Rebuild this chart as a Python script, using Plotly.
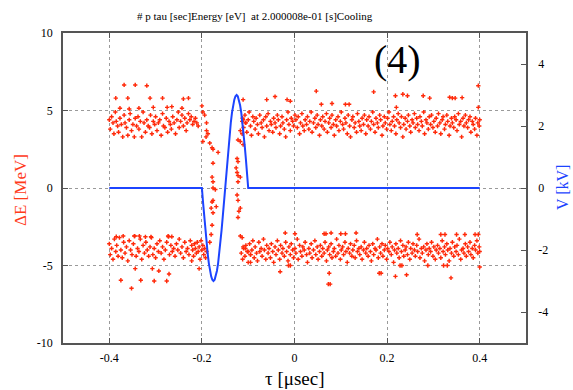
import plotly.graph_objects as go

# ---- data ----
# upper band, left of the transition  (tau [usec], dE [MeV])
UPPER_LEFT = [(-0.400,4.4),(-0.398,3.8),(-0.395,4.6),(-0.392,4.2),(-0.390,3.5),(-0.387,4.9),(-0.385,4.3),(-0.382,4.0),
 (-0.380,3.6),(-0.377,4.5),(-0.374,4.1),(-0.371,3.3),(-0.368,4.7),(-0.366,4.2),(-0.363,3.9),(-0.360,3.4),(-0.357,4.4),
 (-0.355,4.8),(-0.352,3.7),(-0.349,4.1),(-0.346,3.3),(-0.344,4.5),(-0.341,4.0),(-0.338,4.6),(-0.336,3.8),(-0.333,4.3),
 (-0.330,3.3),(-0.327,4.9),(-0.325,4.2),(-0.322,3.6),(-0.319,4.4),(-0.316,4.0),(-0.313,3.9),(-0.311,4.7),(-0.308,3.5),
 (-0.305,4.3),(-0.302,4.1),(-0.300,4.6),(-0.297,3.7),(-0.294,4.2),(-0.291,4.4),(-0.288,3.4),(-0.285,4.8),(-0.283,4.0),
 (-0.280,3.9),(-0.277,4.5),(-0.274,3.6),(-0.271,4.3),(-0.268,4.1),(-0.266,3.8),(-0.263,4.6),(-0.260,4.2),(-0.257,3.5),
 (-0.254,4.4),(-0.251,4.9),(-0.249,3.9),(-0.246,4.3),(-0.243,4.7),(-0.240,4.0),(-0.237,4.5),(-0.234,3.7),(-0.232,4.2),
 (-0.229,4.8),(-0.226,4.4),(-0.223,4.6),(-0.220,4.1),(-0.217,4.3),(-0.214,4.5),(-0.211,4.2),(-0.208,4.0)]

UPPER_RIGHT = [(-0.112,4.5),(-0.110,3.9),(-0.107,4.7),(-0.105,4.2),(-0.103,3.6),(-0.100,4.4),(-0.098,4.9),(-0.095,4.0),
 (-0.093,3.4),(-0.090,4.6),(-0.088,4.3),(-0.085,3.8),(-0.083,4.5),(-0.080,4.1),(-0.078,3.5),(-0.075,4.7),(-0.072,4.2),
 (-0.070,3.9),(-0.067,4.4),(-0.065,3.3),(-0.062,4.6),(-0.060,4.0),(-0.057,4.8),(-0.055,3.7),(-0.052,4.3),(-0.050,4.1),
 (-0.047,3.6),(-0.045,4.5),(-0.042,4.2),(-0.040,3.9),(-0.037,4.7),(-0.035,4.4),(-0.032,3.5),(-0.030,4.0),(-0.027,4.6),
 (-0.025,4.2),(-0.022,3.8),(-0.019,3.3),(-0.017,4.4),(-0.014,4.9),(-0.012,4.1),(-0.009,3.7),(-0.007,4.5),(-0.004,4.3),
 (-0.002,4.0),(0.001,4.7),(0.003,4.4),(0.006,3.9),(0.008,4.6),(0.011,3.5),(0.013,4.2),(0.016,4.8),(0.018,4.0),(0.021,3.7),
 (0.023,4.4),(0.026,4.1),(0.028,4.6),(0.031,3.8),(0.033,4.3),(0.036,4.9),(0.038,3.6),(0.041,4.2),(0.044,4.5),(0.046,3.9),
 (0.049,4.7),(0.051,4.1),(0.054,3.4),(0.056,4.4),(0.059,4.0),(0.061,4.6),(0.064,3.8),(0.066,4.3),(0.069,4.8),(0.071,3.6),
 (0.074,4.2),(0.076,4.5),(0.079,3.9),(0.081,4.7),(0.084,4.1),(0.086,3.4),(0.089,4.4),(0.091,4.0),(0.094,4.6),(0.096,3.7),
 (0.099,4.3),(0.101,4.9),(0.104,4.1),(0.106,3.8),(0.109,4.5),(0.111,4.2),(0.114,3.5),(0.116,4.7),(0.119,4.0),(0.121,3.3),
 (0.124,4.4),(0.126,4.6),(0.129,3.9),(0.131,4.2),(0.134,3.6),(0.136,4.8),(0.139,4.3),(0.141,4.0),(0.144,3.7),(0.146,4.5),
 (0.149,4.1),(0.151,4.7),(0.154,3.5),(0.156,4.4),(0.159,4.0),(0.161,4.6),(0.164,3.8),(0.166,4.3),(0.169,4.9),(0.171,4.1),
 (0.174,3.6),(0.176,4.5),(0.179,4.2),(0.181,3.9),(0.184,4.7),(0.186,4.4),(0.189,3.4),(0.191,4.0),(0.194,4.6),(0.196,4.2),
 (0.199,3.8),(0.201,4.5),(0.204,4.9),(0.206,4.1),(0.209,3.7),(0.211,4.3),(0.214,4.6),(0.216,4.0),(0.219,3.5),(0.221,4.4),
 (0.224,4.8),(0.226,4.2),(0.229,3.9),(0.231,4.6),(0.234,3.3),(0.236,4.1),(0.239,4.5),(0.241,3.8),(0.244,4.3),(0.246,4.7),
 (0.249,4.0),(0.251,3.6),(0.254,4.4),(0.256,4.2),(0.259,4.8),(0.261,3.9),(0.264,4.5),(0.266,4.1),(0.269,3.7),(0.271,4.6),
 (0.274,4.3),(0.276,4.0),(0.279,4.9),(0.281,3.5),(0.284,4.4),(0.286,4.2),(0.289,3.8),(0.291,4.6),(0.294,4.1),(0.296,4.7),
 (0.299,3.9),(0.301,4.3),(0.304,3.6),(0.306,4.5),(0.309,4.0),(0.311,4.8),(0.314,4.2),(0.316,3.5),(0.319,4.4),(0.321,4.6),
 (0.324,3.8),(0.326,4.1),(0.329,4.7),(0.331,4.3),(0.334,3.4),(0.336,4.0),(0.339,4.5),(0.341,4.2),(0.344,3.9),(0.346,4.6),
 (0.349,4.4),(0.351,3.7),(0.354,4.8),(0.356,4.1),(0.359,4.3),(0.361,3.3),(0.364,4.5),(0.366,4.0),(0.369,4.7),(0.371,4.2),
 (0.374,3.9),(0.376,4.4),(0.379,4.6),(0.381,3.6),(0.384,4.3),(0.386,4.1),(0.389,3.8),(0.391,4.5),(0.394,3.4),(0.396,4.2),
 (0.399,4.0),(0.400,4.4)]

UPPER_OUTLIERS = [(-0.016,5.7),(-0.009,5.6),(0.047,6.25),(0.058,5.4),(0.081,5.45),(0.110,5.4),(0.118,5.4),(0.171,6.2),
 (0.218,5.95),(0.220,5.2),(0.234,6.05),(0.244,5.95),(0.278,5.95),(0.292,5.8),(0.335,5.85),(0.341,5.8),(0.347,5.8),
 (0.362,5.83),(0.397,6.6),(0.397,5.2),(-0.060,5.7),(-0.042,5.9),
 (-0.368,6.65),(-0.344,6.65),(-0.319,6.6),(-0.386,5.8),(-0.360,5.8),(-0.312,5.8),(-0.285,5.8),(-0.240,5.75),(-0.229,5.8),
 (-0.377,5.15),(-0.357,5.1),(-0.336,5.15),(-0.305,5.2),(-0.275,5.2),(-0.265,5.25),(-0.243,5.15)]

LOWER_LEFT = [(-0.400,-3.6),(-0.398,-4.3),(-0.395,-3.9),(-0.392,-4.6),(-0.389,-3.3),(-0.386,-4.1),(-0.384,-3.7),
 (-0.381,-4.4),(-0.378,-3.2),(-0.375,-4.0),(-0.372,-4.5),(-0.369,-3.5),(-0.366,-4.2),(-0.363,-3.8),(-0.360,-4.7),
 (-0.357,-3.4),(-0.354,-4.0),(-0.351,-4.3),(-0.348,-3.6),(-0.345,-3.1),(-0.342,-4.4),(-0.339,-3.9),(-0.336,-4.1),
 (-0.333,-3.3),(-0.330,-4.6),(-0.327,-3.7),(-0.324,-4.2),(-0.321,-3.5),(-0.318,-4.0),(-0.315,-4.4),(-0.312,-3.8),
 (-0.309,-3.2),(-0.306,-4.3),(-0.303,-3.9),(-0.300,-4.5),(-0.297,-3.6),(-0.294,-4.1),(-0.291,-3.4),(-0.288,-4.2),
 (-0.285,-3.8),(-0.282,-4.6),(-0.279,-4.0),(-0.276,-3.5),(-0.273,-3.1),(-0.270,-4.3),(-0.267,-3.7),(-0.264,-4.1),
 (-0.261,-3.9),(-0.258,-4.4),(-0.255,-3.6),(-0.252,-4.0),(-0.249,-3.3),(-0.246,-4.2),(-0.243,-3.8),(-0.240,-4.5),
 (-0.237,-3.5),(-0.234,-4.1),(-0.231,-3.9),(-0.228,-4.3),(-0.225,-3.4),(-0.222,-3.7),(-0.220,-4.0),(-0.218,-4.4),
 (-0.216,-3.6),(-0.214,-3.9),(-0.212,-4.2),(-0.210,-3.5),(-0.208,-4.1),(-0.206,-3.8),(-0.204,-4.6),(-0.202,-3.4),
 (-0.200,-4.0),(-0.198,-3.7),(-0.196,-4.3),(-0.194,-3.9),(-0.192,-4.5),(-0.190,-4.1)]

LOWER_RIGHT = [(-0.115,-4.2),(-0.112,-4.6),(-0.110,-3.9),(-0.107,-4.4),(-0.105,-3.7),(-0.102,-4.1),(-0.100,-4.8),
 (-0.097,-3.6),(-0.095,-4.3),(-0.092,-4.0),(-0.090,-3.4),(-0.087,-4.5),(-0.085,-3.8),(-0.082,-4.2),(-0.080,-4.7),
 (-0.077,-3.5),(-0.075,-4.1),(-0.072,-3.9),(-0.070,-4.4),(-0.067,-3.3),(-0.065,-4.0),(-0.062,-4.6),(-0.060,-3.7),
 (-0.057,-4.2),(-0.055,-3.9),(-0.052,-4.5),(-0.050,-3.6),(-0.047,-4.1),(-0.045,-4.8),(-0.042,-3.8),(-0.040,-4.3),
 (-0.037,-3.4),(-0.035,-4.0),(-0.032,-4.6),(-0.030,-3.7),(-0.027,-4.2),(-0.025,-3.9),(-0.022,-4.4),(-0.019,-3.5),
 (-0.017,-4.1),(-0.014,-4.7),(-0.012,-3.8),(-0.009,-4.3),(-0.007,-3.6),(-0.004,-4.0),(-0.002,-4.5),(0.001,-3.9),
 (0.003,-4.2),(0.006,-3.3),(0.008,-4.6),(0.011,-3.7),(0.013,-4.1),(0.016,-4.4),(0.018,-3.8),(0.021,-4.0),(0.023,-3.5),
 (0.026,-4.3),(0.028,-4.8),(0.031,-3.9),(0.033,-4.2),(0.036,-3.6),(0.038,-4.5),(0.041,-4.0),(0.044,-3.4),(0.046,-4.3),
 (0.049,-3.8),(0.051,-4.6),(0.054,-4.1),(0.056,-3.7),(0.059,-4.4),(0.061,-3.9),(0.064,-4.2),(0.066,-3.5),(0.069,-4.7),
 (0.071,-4.0),(0.074,-3.8),(0.076,-4.3),(0.079,-3.6),(0.081,-4.5),(0.084,-4.1),(0.086,-3.9),(0.089,-4.4),(0.091,-3.3),
 (0.094,-4.2),(0.096,-3.7),(0.099,-4.6),(0.101,-4.0),(0.104,-3.8),(0.106,-4.3),(0.109,-3.5),(0.111,-4.1),(0.114,-4.8),
 (0.116,-3.9),(0.119,-4.2),(0.121,-3.6),(0.124,-4.4),(0.126,-4.0),(0.129,-3.7),(0.131,-4.5),(0.134,-3.4),(0.136,-4.1),
 (0.139,-3.9),(0.141,-4.3),(0.144,-3.8),(0.146,-4.6),(0.149,-4.0),(0.151,-3.5),(0.154,-4.2),(0.156,-3.9),(0.159,-4.4),
 (0.161,-3.7),(0.164,-4.1),(0.166,-4.7),(0.169,-3.6),(0.171,-4.3),(0.174,-3.9),(0.176,-4.0),(0.179,-3.3),(0.181,-4.5),
 (0.184,-3.8),(0.186,-4.2),(0.189,-3.6),(0.191,-4.4),(0.194,-4.0),(0.196,-3.7),(0.199,-4.6),(0.201,-3.9),(0.204,-4.1),
 (0.206,-3.5),(0.209,-4.3),(0.211,-3.8),(0.214,-4.8),(0.216,-4.0),(0.219,-3.6),(0.221,-4.2),(0.224,-3.9),(0.226,-4.5),
 (0.229,-3.4),(0.231,-4.1),(0.234,-3.7),(0.236,-4.4),(0.239,-4.0),(0.241,-3.8),(0.244,-4.3),(0.246,-3.5),(0.249,-4.6),
 (0.251,-3.9),(0.254,-4.2),(0.256,-3.6),(0.259,-4.0),(0.261,-4.4),(0.264,-3.7),(0.266,-4.1),(0.269,-3.3),(0.271,-4.5),
 (0.274,-3.9),(0.276,-4.2),(0.279,-3.8),(0.281,-4.7),(0.284,-4.0),(0.286,-3.6),(0.289,-4.3),(0.291,-3.9),(0.294,-4.1),
 (0.296,-3.5),(0.299,-4.4),(0.301,-3.8),(0.304,-4.6),(0.306,-4.0),(0.309,-3.7),(0.311,-4.2),(0.314,-3.9),(0.316,-4.5),
 (0.319,-3.4),(0.321,-4.1),(0.324,-3.8),(0.326,-4.3),(0.329,-3.6),(0.331,-4.0),(0.334,-4.7),(0.336,-3.9),(0.339,-4.2),
 (0.341,-3.5),(0.344,-4.4),(0.346,-3.8),(0.349,-4.1),(0.351,-3.7),(0.354,-4.3),(0.356,-3.3),(0.359,-4.6),(0.361,-4.0),
 (0.364,-3.9),(0.366,-4.2),(0.369,-3.6),(0.371,-4.4),(0.374,-3.8),(0.376,-4.1),(0.379,-3.5),(0.381,-4.3),(0.384,-3.9),
 (0.386,-4.5),(0.389,-3.7),(0.391,-4.0),(0.394,-3.4),(0.396,-4.2),(0.399,-3.8),(0.400,-4.1)]

LOWER_OUTLIERS = [(-0.375,-5.95),(-0.352,-6.47),(-0.344,-5.2),(-0.332,-5.95),(-0.307,-5.2),(-0.303,-6.0),(-0.293,-5.35),
 (-0.276,-6.0),(-0.271,-5.55),(-0.206,-5.2),(-0.222,-4.7),
 (-0.031,-5.4),(0.075,-5.5),(0.073,-6.2),(0.077,-6.2),(0.183,-5.5),(0.187,-5.5),(0.218,-5.7),(0.242,-5.6),(0.338,-5.8),
 (0.400,-5.1),(0.288,-5.0),(0.322,-5.0),(0.330,-5.0),(0.228,-5.0),(0.232,-5.0),(-0.013,-5.0),(-0.009,-5.0),
 (-0.020,-2.9),(0.001,-2.95),(0.064,-2.95),(0.068,-2.95),(0.079,-2.9),(0.100,-2.95),(0.110,-2.95),(0.133,-2.9),
 (0.265,-3.0),(0.316,-3.0),(0.325,-3.0),(0.350,-3.0),(0.368,-3.0),(0.390,-3.0),(0.397,-3.0),
 (-0.385,-3.14),(-0.370,-3.1),(-0.346,-3.1),(-0.335,-3.1),(-0.322,-3.15),(-0.310,-3.15),(-0.272,-3.14),(-0.265,-3.14)]

TRAILS = [(-0.200,5.3),(-0.198,4.9),(-0.194,4.7),(-0.190,4.2),(-0.190,3.7),(-0.187,3.5),(-0.191,3.3),(-0.198,3.0),
 (-0.183,2.9),(-0.178,2.6),(-0.176,2.5),(-0.165,2.3),(-0.176,1.6),(-0.178,0.7),(-0.176,0.4),(-0.176,0.0),(-0.171,-0.1),
 (-0.178,-0.9),(-0.176,-0.8),(-0.180,-1.3),(-0.169,-1.2),(-0.176,-1.6),(-0.178,-2.4),(-0.180,-3.0),(-0.183,-3.5),
 (-0.111,5.7),(-0.111,4.4),(-0.106,4.2),(-0.113,4.3),(-0.117,3.7),(-0.113,3.5),(-0.122,3.1),(-0.117,3.0),(-0.111,2.8),
 (-0.124,1.9),(-0.122,1.7),(-0.126,1.3),(-0.124,1.0),(-0.122,0.8),(-0.117,0.7),(-0.122,0.4),(-0.124,-0.45),
 (-0.122,-0.8),(-0.117,-1.3),(-0.120,-1.5),(-0.122,-1.9),(-0.117,-3.1),(-0.113,-3.2),(-0.111,-3.8),(-0.106,-3.9),
 (-0.100,-4.1),(-0.095,-4.3),(-0.095,-4.8)]

# RF voltage (tau [usec], V [kV])
VOLTAGE = [(-0.4,0.0),(-0.2,0.0),(-0.1975,-0.47),(-0.195,-0.93),(-0.1925,-1.36),(-0.19,-1.76),(-0.1875,-2.12),
 (-0.185,-2.43),(-0.1825,-2.67),(-0.18,-2.85),(-0.1775,-2.96),(-0.175,-3.0),(-0.1725,-2.96),(-0.17,-2.85),
 (-0.1675,-2.67),(-0.165,-2.43),(-0.1625,-2.12),(-0.16,-1.76),(-0.1575,-1.36),(-0.155,-0.93),(-0.1525,-0.47),
 (-0.15,0.0),(-0.1475,0.47),(-0.145,0.93),(-0.1425,1.36),(-0.14,1.76),(-0.1375,2.12),(-0.135,2.43),(-0.1325,2.67),
 (-0.13,2.85),(-0.1275,2.96),(-0.125,3.0),(-0.1225,2.96),(-0.12,2.85),(-0.1175,2.67),(-0.115,2.43),(-0.1125,2.12),
 (-0.11,1.76),(-0.1075,1.36),(-0.105,0.93),(-0.1025,0.47),(-0.1,0.0),(0.4,0.0)]

X_TICKS = [-0.4, -0.2, 0, 0.2, 0.4]
X_TICK_TEXT = ["-0.4", "-0.2", "0", "0.2", "0.4"]
Y_TICKS = [-10, -5, 0, 5, 10]
Y_TICK_TEXT = ["-10", "-5", "0", "5", "10"]
Y2_TICKS = [-4, -2, 0, 2, 4]
Y2_TICK_TEXT = ["-4", "-2", "0", "2", "4"]

TITLE = "# p tau [sec]Energy [eV]  at 2.000008e-01 [s]Cooling"

# ---- figure ----
pts = UPPER_LEFT + UPPER_RIGHT + UPPER_OUTLIERS + LOWER_LEFT + LOWER_RIGHT + LOWER_OUTLIERS + TRAILS
RED = "#ff2a0a"
BLUE = "#1c44ff"
FONT = "Liberation Serif"
AXC = "#555555"

fig = go.Figure()
fig.add_trace(go.Scatter(x=[p[0] for p in pts], y=[p[1] for p in pts], mode="markers",
                         marker=dict(symbol="cross", size=3.6, color=RED, line=dict(width=0)),
                         yaxis="y", hoverinfo="skip"))
fig.add_trace(go.Scatter(x=[p[0] for p in VOLTAGE], y=[p[1] for p in VOLTAGE], mode="lines",
                         line=dict(color=BLUE, width=2),
                         yaxis="y2", hoverinfo="skip"))

fig.update_layout(
    width=573, height=390,
    margin=dict(l=63, r=47, t=33, b=47),
    plot_bgcolor="white", paper_bgcolor="white",
    showlegend=False,
    font=dict(family=FONT, size=12, color="black"),
    xaxis=dict(range=[-0.5, 0.5], tickvals=X_TICKS, ticktext=X_TICK_TEXT,
               ticks="inside", ticklen=5, tickcolor=AXC, showline=True, linecolor=AXC, linewidth=1.5,
               mirror="ticks", showgrid=True, gridcolor="#9a9a9a", griddash="dot", gridwidth=1,
               zeroline=False, ticklabelstandoff=3),
    yaxis=dict(range=[-10, 10], tickvals=Y_TICKS, ticktext=Y_TICK_TEXT,
               ticks="inside", ticklen=5, tickcolor=AXC, showline=True, linecolor=AXC, linewidth=1.5,
               mirror=False, showgrid=True, gridcolor="#9a9a9a", griddash="dot", gridwidth=1,
               zeroline=False, ticklabelstandoff=6),
    yaxis2=dict(range=[-5, 5], tickvals=Y2_TICKS, ticktext=Y2_TICK_TEXT, overlaying="y", side="right",
                ticks="inside", ticklen=5, tickcolor=AXC, showline=True, linecolor=AXC, linewidth=1.5,
                showgrid=False, zeroline=False, ticklabelstandoff=8),
    annotations=[
        dict(text=TITLE, xref="paper", yref="paper", x=0.415, y=1.056, xanchor="center", yanchor="middle",
             showarrow=False, font=dict(family=FONT, size=11, color="black")),
        dict(text="(4)", xref="x", yref="y", x=0.222, y=8.3, xanchor="center", yanchor="middle",
             showarrow=False, font=dict(family=FONT, size=40, color="black")),
        dict(text="ΔE [MeV]", xref="paper", yref="paper", x=-0.092, y=0.495, xanchor="center", yanchor="middle",
             textangle=-90, showarrow=False, font=dict(family=FONT, size=17, color="#ff3a1a")),
        dict(text="V [kV]", xref="paper", yref="paper", x=1.078, y=0.5, xanchor="center", yanchor="middle",
             textangle=-90, showarrow=False, font=dict(family=FONT, size=16, color=BLUE)),
        dict(text="τ [μsec]", xref="paper", yref="paper", x=0.5, y=-0.113, xanchor="center", yanchor="middle",
             showarrow=False, font=dict(family=FONT, size=19, color="black")),
    ],
)

fig.write_html("out.html")
